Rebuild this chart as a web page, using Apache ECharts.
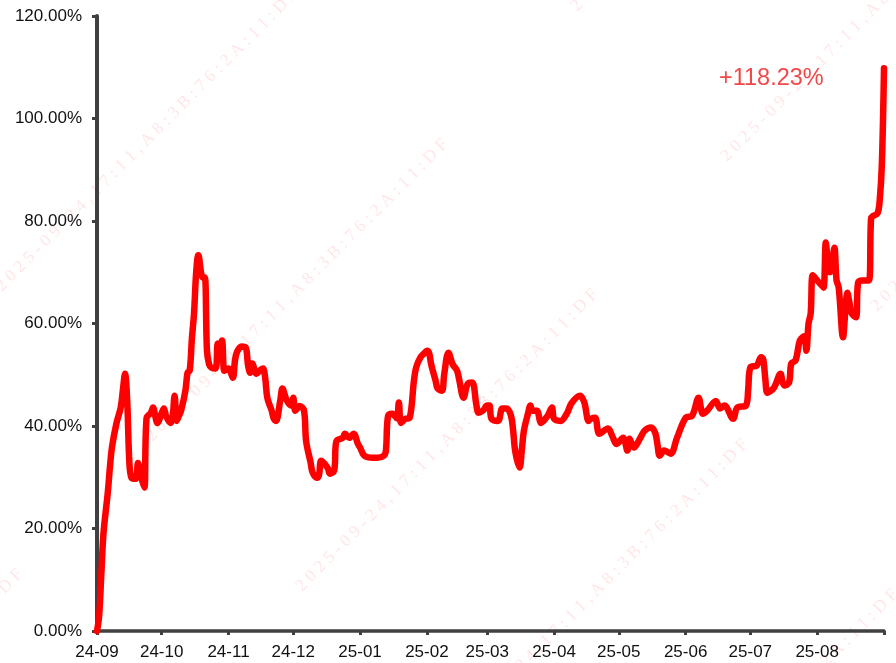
<!DOCTYPE html>
<html>
<head>
<meta charset="utf-8">
<title>收益曲线</title>
<script src="https://cdn.jsdelivr.net/npm/echarts@6.0.0/dist/echarts.min.js"></script>
<style>
  html, body { margin: 0; padding: 0; background: #fff; }
  #myChart { width: 896px; height: 663px; }
</style>
</head>
<body>
<div id="myChart"></div>
<script>
// 日期（时间轴）
var dates = [
  '2024-09-01','2024-09-02','2024-09-03','2024-09-04','2024-09-06','2024-09-07','2024-09-08','2024-09-10',
  '2024-09-12','2024-09-13','2024-09-14','2024-09-15','2024-09-16','2024-09-17','2024-09-19','2024-09-20',
  '2024-09-21','2024-09-22','2024-09-23','2024-09-24','2024-09-26','2024-09-27','2024-09-28','2024-09-29',
  '2024-10-01','2024-10-02','2024-10-03','2024-10-05','2024-10-06','2024-10-07','2024-10-08','2024-10-09',
  '2024-10-10','2024-10-12','2024-10-13','2024-10-14','2024-10-15','2024-10-16','2024-10-17','2024-10-18',
  '2024-10-20','2024-10-21','2024-10-22','2024-10-23','2024-10-24','2024-10-26','2024-10-27','2024-10-28',
  '2024-10-29','2024-10-30','2024-10-31','2024-11-01','2024-11-03','2024-11-04','2024-11-05','2024-11-07',
  '2024-11-09','2024-11-10','2024-11-11','2024-11-12','2024-11-14','2024-11-16','2024-11-17','2024-11-18',
  '2024-11-19','2024-11-21','2024-11-22','2024-11-23','2024-11-25','2024-11-26','2024-11-28','2024-11-30',
  '2024-12-01','2024-12-02','2024-12-04','2024-12-06','2024-12-07','2024-12-09','2024-12-10','2024-12-12',
  '2024-12-13','2024-12-14','2024-12-17','2024-12-18','2024-12-20','2024-12-21','2024-12-24','2024-12-25',
  '2024-12-27','2024-12-29','2024-12-31','2025-01-01','2025-01-03','2025-01-07','2025-01-09','2025-01-12',
  '2025-01-13','2025-01-14','2025-01-16','2025-01-18','2025-01-19','2025-01-20','2025-01-22','2025-01-24',
  '2025-01-26','2025-01-27','2025-01-29','2025-01-31','2025-02-01','2025-02-02','2025-02-03','2025-02-05',
  '2025-02-06','2025-02-08','2025-02-09','2025-02-11','2025-02-13','2025-02-15','2025-02-16','2025-02-18',
  '2025-02-20','2025-02-22','2025-02-24','2025-02-25','2025-02-27','2025-03-01','2025-03-02','2025-03-03',
  '2025-03-06','2025-03-08','2025-03-10','2025-03-12','2025-03-13','2025-03-14','2025-03-16','2025-03-17',
  '2025-03-18','2025-03-20','2025-03-21','2025-03-22','2025-03-24','2025-03-26','2025-03-29','2025-03-31',
  '2025-04-01','2025-04-04','2025-04-07','2025-04-09','2025-04-13','2025-04-15','2025-04-17','2025-04-18',
  '2025-04-20','2025-04-22','2025-04-26','2025-04-28','2025-04-30','2025-05-03','2025-05-05','2025-05-06',
  '2025-05-08','2025-05-11','2025-05-13','2025-05-16','2025-05-18','2025-05-19','2025-05-20','2025-05-22',
  '2025-05-25','2025-05-28','2025-06-01','2025-06-04','2025-06-07','2025-06-09','2025-06-11','2025-06-15',
  '2025-06-17','2025-06-19','2025-06-23','2025-06-25','2025-06-29','2025-06-30','2025-07-01','2025-07-04',
  '2025-07-06','2025-07-07','2025-07-08','2025-07-09','2025-07-12','2025-07-15','2025-07-16','2025-07-17',
  '2025-07-19','2025-07-20','2025-07-22','2025-07-24','2025-07-26','2025-07-27','2025-07-28','2025-07-29',
  '2025-07-30','2025-08-01','2025-08-03','2025-08-04','2025-08-05','2025-08-06','2025-08-07','2025-08-08',
  '2025-08-09','2025-08-10','2025-08-11','2025-08-13','2025-08-14','2025-08-15','2025-08-16','2025-08-17',
  '2025-08-19','2025-08-20','2025-08-22','2025-08-25','2025-08-26','2025-08-27','2025-08-29','2025-08-30',
  '2025-08-31','2025-09-01'
];
// 累计收益率（%）
var returns = [
  0, 3, 11, 19, 27, 32, 36, 40.5,
  43.6, 47, 50.2, 45, 33, 29.9, 29.7, 32.8,
  31, 29.3, 28, 41.6, 42.6, 43.6, 42, 40.6,
  42.5, 43.4, 42, 40.6, 41.5, 45.9, 41, 42,
  43, 46.9, 50.4, 50.8, 57, 62, 70, 73.3,
  69, 69, 54.7, 52, 51.4, 51.2, 56.1, 55,
  56.7, 50.8, 51, 51.2, 49.4, 52.8, 54.5, 55.5,
  55.3, 52, 50.4, 52.2, 50.2, 51, 51.2, 49.4,
  45.5, 43, 41.4, 41, 45, 47.3, 45, 44,
  45.5, 43, 43.9, 43, 37, 33, 30.9, 29.9,
  30.5, 33.2, 31.8, 30.7, 31.3, 37, 37.7, 38.5,
  37.7, 38.5, 36.5, 35.8, 34.2, 33.8, 33.8, 34.2,
  35.2, 42, 42.4, 41.5, 44.6, 40.6, 41.4, 41.6,
  48.9, 51.4, 53.4, 54.3, 54.7, 54.3, 52, 48.9,
  47.3, 46.9, 50, 54.3, 52, 50.8, 49, 45.5,
  48.3, 48.5, 44, 42.6, 43, 44, 44, 41.4,
  41, 43.4, 43.4, 42, 39.1, 35, 31.9, 35.2,
  39.1, 42.6, 44, 43, 43, 40.6, 42, 43.6,
  41.4, 41, 42.5, 44.4, 45.9, 44.6, 41, 41.4,
  41.6, 38.5, 39.5, 38, 36.5, 37.7, 35.2, 37.5,
  35.8, 37.7, 39.1, 39.7, 38.5, 36.2, 34.2, 35.2,
  34.6, 37.7, 41.6, 42, 45.5, 42.4, 43, 44.9,
  43.4, 44, 41.4, 43.6, 44, 47, 51.4, 51.8,
  53.4, 53, 49, 46.5, 47.5, 50.2, 48.5, 47.9,
  48.5, 52.2, 52.8, 56.7, 57.5, 54.7, 60, 62,
  69.4, 68.4, 67.5, 67, 75.8, 72, 70, 72,
  74.8, 68.4, 67, 57.3, 62, 66, 64, 62,
  61.2, 68, 68.4, 68.4, 80.5, 81, 81.5, 84,
  91, 109.8
];
var yTicks = [0, 20, 40, 60, 80, 100, 120];
var totalLabel = '+118.23%';
var watermarkText = '2025-09-24,17:11,A8:3B:76:2A:11:DF';

var chart = echarts.init(document.getElementById('myChart'));

// 水印（斜向平铺）
var marks = [];
var wmStr = watermarkText.split('').join(' ');
for (var i = -4; i <= 6; i++) {
  for (var j = -2; j <= 2; j++) {
    var x0 = 5 + i * 150 + j * 575;
    var y0 = 295 + i * 150 - j * 280;
    if (x0 > 940 || x0 + 310 < -40 || y0 < -40 || y0 - 310 > 700) continue;
    marks.push({
      type: 'text',
      x: x0,
      y: y0,
      rotation: Math.PI / 4,
      silent: true,
      z: 0,
      style: {
        text: wmStr,
        fill: 'rgba(255,0,0,0.1)',
        font: '17.5px "Liberation Serif", serif',
        textVerticalAlign: 'bottom'
      }
    });
  }
}

var seriesData = dates.map(function (d, k) { return [d, returns[k]]; });

var options = {
  animation: false,
  backgroundColor: '#fff',
  title: {
    text: totalLabel,
    left: 719,
    top: 67,
    padding: 0,
    textStyle: {
      color: '#f04848',
      fontSize: 23.5,
      fontWeight: 'normal',
      fontFamily: '"Liberation Sans", Arial, sans-serif'
    }
  },
  graphic: marks,
  grid: {
    left: 97,
    right: 12,
    top: 16,
    bottom: 32,
    outerBoundsMode: 'none'
  },
  xAxis: {
    type: 'time',
    min: '2024-09-01',
    max: '2025-09-01',
    splitNumber: 12,
    minInterval: 28 * 86400000,
    maxInterval: 31 * 86400000,
    axisLine: { lineStyle: { color: '#404040', width: 3.5 } },
    axisTick: { show: true, length: 4, lineStyle: { color: '#404040', width: 3 } },
    splitLine: { show: false },
    axisLabel: {
      color: '#111',
      fontSize: 17,
      margin: 13,
      fontFamily: '"Liberation Sans", Arial, sans-serif',
      hideOverlap: false,
      formatter: function (val) {
        var d = new Date(val);
        var y = d.getFullYear() % 100;
        var m = d.getMonth() + 1;
        if (d.getFullYear() === 2025 && m === 9) return '';
        return y + '-' + (m < 10 ? '0' + m : m);
      }
    }
  },
  yAxis: {
    type: 'value',
    min: yTicks[0],
    max: yTicks[yTicks.length - 1],
    interval: 20,
    axisLine: { show: true, lineStyle: { color: '#404040', width: 4 } },
    axisTick: { show: true, length: 5, lineStyle: { color: '#404040', width: 3 } },
    splitLine: { show: false },
    axisLabel: {
      color: '#111',
      fontSize: 17,
      margin: 15,
      fontFamily: '"Liberation Sans", Arial, sans-serif',
      formatter: function (v) { return v.toFixed(2) + '%'; }
    }
  },
  series: [
    {
      name: '收益率',
      type: 'line',
      data: seriesData,
      smooth: 0.35,
      symbol: 'none',
      clip: false,
      z: 3,
      lineStyle: { color: '#ff0000', width: 6.5, cap: 'round', join: 'round' }
    }
  ]
};

chart.setOption(options);
</script>
</body>
</html>
